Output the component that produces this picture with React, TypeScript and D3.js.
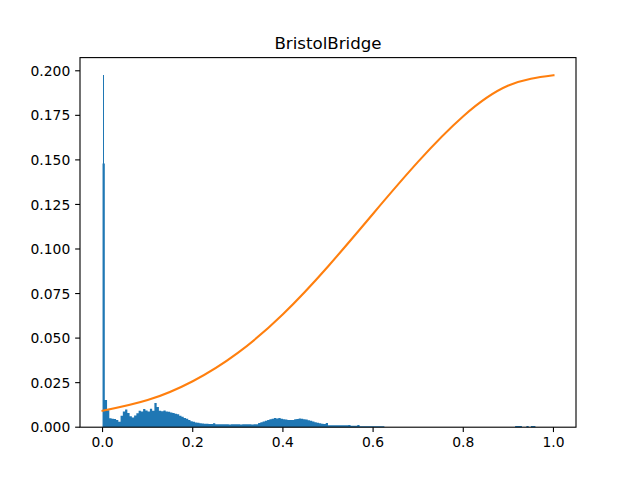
import { useRef, useEffect } from 'react';
import * as d3 from 'd3';

// histogram: contiguous bins of width 0.005 starting at 0
const binWidth = 0.005;
const binHeights = [
  0.148, 0.0152, 0.0095, 0.0050, 0.0048, 0.0046, 0.0040, 0.0030, 0.0064, 0.0088,
  0.0100, 0.0080, 0.0062, 0.0055, 0.0065, 0.0078, 0.0092, 0.0088, 0.0102, 0.0094,
  0.0088, 0.0104, 0.0092, 0.0136, 0.0114, 0.0092, 0.0090, 0.0094, 0.0088, 0.0086,
  0.0082, 0.0080, 0.0076, 0.0072, 0.0064, 0.0058, 0.0052, 0.0047, 0.0040, 0.0034,
  0.0030, 0.0027, 0.0025, 0.0022, 0.0021, 0.0019, 0.0019, 0.0018, 0.0018, 0.0022,
  0.0017, 0.0016, 0.0016, 0.0017, 0.0016, 0.0016, 0.0015, 0.0016, 0.0016, 0.0016,
  0.0016, 0.0015, 0.0016, 0.0016, 0.0016, 0.0016, 0.0015, 0.0016, 0.0017, 0.0024,
  0.0028, 0.0032, 0.0036, 0.0040, 0.0044, 0.0048, 0.0052, 0.0049, 0.0052, 0.0047,
  0.0045, 0.0043, 0.0041, 0.0040, 0.0041, 0.0044, 0.0046, 0.0049, 0.0047, 0.0045,
  0.0043, 0.0039, 0.0036, 0.0032, 0.0028, 0.0025, 0.0022, 0.0020, 0.0018, 0.0024,
  0.0011, 0.0011, 0.0011, 0.0011, 0.0011, 0.0011, 0.0011, 0.0011, 0.0011, 0.0013,
  0.0008, 0.0008, 0.0008, 0.0013, 0.0006, 0.0006, 0.0006, 0.0006, 0.0006, 0.0006,
  0.0006, 0.0006, 0.0006, 0.0006, 0.0006,
];

// isolated bins far to the right
const tailStarts = [0.915, 0.92, 0.925, 0.94, 0.95, 0.955];
const tailHeights = [0.0007, 0.0007, 0.0007, 0.0007, 0.0007, 0.0007];

// thin spike at zero
const spikeX = [0];
const spikeHeights = [0.1975];
const spikeWidth = 0.0022;

// orange curve
const curveX = [0, 0.1, 0.2, 0.3, 0.4, 0.5, 0.6, 0.7, 0.8, 0.9, 1.0];
const curveY = [0.0092, 0.0152, 0.0258, 0.0417, 0.0634, 0.0902, 0.1198, 0.1490, 0.1745, 0.1917, 0.1975];

const xTicks = [0, 0.2, 0.4, 0.6, 0.8, 1.0];
const yTicks = [0, 0.025, 0.05, 0.075, 0.1, 0.125, 0.15, 0.175, 0.2];
const title = 'BristolBridge';

export default function App() {
  const svgRef = useRef<SVGSVGElement>(null);

  useEffect(() => {
    if (!svgRef.current) return;
    const svg = d3.select(svgRef.current);
    svg.selectAll('*').remove();

    const width = 640;
    const height = 480;
    const margin = { top: 57.6, right: 64, bottom: 52.8, left: 80 };
    const font = '"DejaVu Sans", sans-serif';
    const tickLen = 4.86;
    const pad = 4.86;
    const fs = 13.89;

    const x = d3.scaleLinear().domain([-0.05, 1.05]).range([margin.left, width - margin.right]);
    const y = d3.scaleLinear().domain([0, 0.2074]).range([height - margin.bottom, margin.top]);

    svg.append('rect').attr('width', width).attr('height', height).attr('fill', '#ffffff');

    // all bins, sorted, then turned into one stepped outline (no seams between bars)
    const bins = [
      ...binHeights.map((v, i) => ({ x0: i * binWidth, x1: (i + 1) * binWidth, v })),
      ...tailStarts.map((s, i) => ({ x0: s, x1: s + binWidth, v: tailHeights[i] })),
    ];
    const steps: { x: number; v: number }[] = [];
    let prevEnd: number | null = null;
    bins.forEach((b) => {
      if (prevEnd === null || Math.abs(b.x0 - prevEnd) > 1e-9) {
        if (prevEnd !== null) steps.push({ x: prevEnd, v: 0 });
        steps.push({ x: b.x0, v: 0 });
      }
      steps.push({ x: b.x0, v: b.v });
      steps.push({ x: b.x1, v: b.v });
      prevEnd = b.x1;
    });
    if (prevEnd !== null) steps.push({ x: prevEnd, v: 0 });

    const histArea = d3.area<{ x: number; v: number }>()
      .x((d) => x(d.x))
      .y0(y(0))
      .y1((d) => y(d.v));

    svg.append('path')
      .datum(steps)
      .attr('d', histArea)
      .attr('fill', '#1f77b4');

    svg.append('g')
      .selectAll('rect')
      .data(spikeX)
      .enter()
      .append('rect')
      .attr('x', (d) => x(d))
      .attr('width', (d) => x(d + spikeWidth) - x(d))
      .attr('y', (_d, i) => y(spikeHeights[i]))
      .attr('height', (_d, i) => y(0) - y(spikeHeights[i]))
      .attr('fill', '#1f77b4')
      .attr('shape-rendering', 'crispEdges');

    const pts = curveX.map((cx, i) => [cx, curveY[i]] as [number, number]);
    const line = d3.line<[number, number]>()
      .x((d) => x(d[0]))
      .y((d) => y(d[1]))
      .curve(d3.curveNatural);

    svg.append('path')
      .datum(pts)
      .attr('d', line)
      .attr('fill', 'none')
      .attr('stroke', '#ff7f0e')
      .attr('stroke-width', 2.08)
      .attr('stroke-linecap', 'square');

    // spines
    const x0 = margin.left;
    const x1 = width - margin.right;
    const y0 = height - margin.bottom;
    const y1 = margin.top;
    svg.append('rect')
      .attr('x', x0)
      .attr('y', y1)
      .attr('width', x1 - x0)
      .attr('height', y0 - y1)
      .attr('fill', 'none')
      .attr('stroke', '#000')
      .attr('stroke-width', 1.11);

    // x ticks
    const gx = svg.append('g');
    xTicks.forEach((t) => {
      gx.append('line')
        .attr('x1', x(t)).attr('x2', x(t))
        .attr('y1', y0).attr('y2', y0 + tickLen)
        .attr('stroke', '#000').attr('stroke-width', 1.11);
      gx.append('text')
        .attr('x', x(t))
        .attr('y', y0 + tickLen + pad + 10.2)
        .attr('text-anchor', 'middle')
        .attr('font-family', font)
        .attr('font-size', fs)
        .attr('fill', '#000')
        .text(d3.format('.1f')(t));
    });

    // y ticks
    const gy = svg.append('g');
    yTicks.forEach((t) => {
      gy.append('line')
        .attr('x1', x0 - tickLen).attr('x2', x0)
        .attr('y1', y(t)).attr('y2', y(t))
        .attr('stroke', '#000').attr('stroke-width', 1.11);
      gy.append('text')
        .attr('x', x0 - tickLen - pad)
        .attr('y', y(t) + 5.1)
        .attr('text-anchor', 'end')
        .attr('font-family', font)
        .attr('font-size', fs)
        .attr('fill', '#000')
        .text(d3.format('.3f')(t));
    });

    svg.append('text')
      .attr('x', (x0 + x1) / 2)
      .attr('y', y1 - 8.33)
      .attr('text-anchor', 'middle')
      .attr('font-family', font)
      .attr('font-size', 16.67)
      .attr('fill', '#000')
      .text(title);
  }, []);

  return (
    <div style={{ position: 'absolute', left: 0, top: 0 }}>
      <svg ref={svgRef} width={640} height={480} style={{ display: 'block' }} />
    </div>
  );
}
